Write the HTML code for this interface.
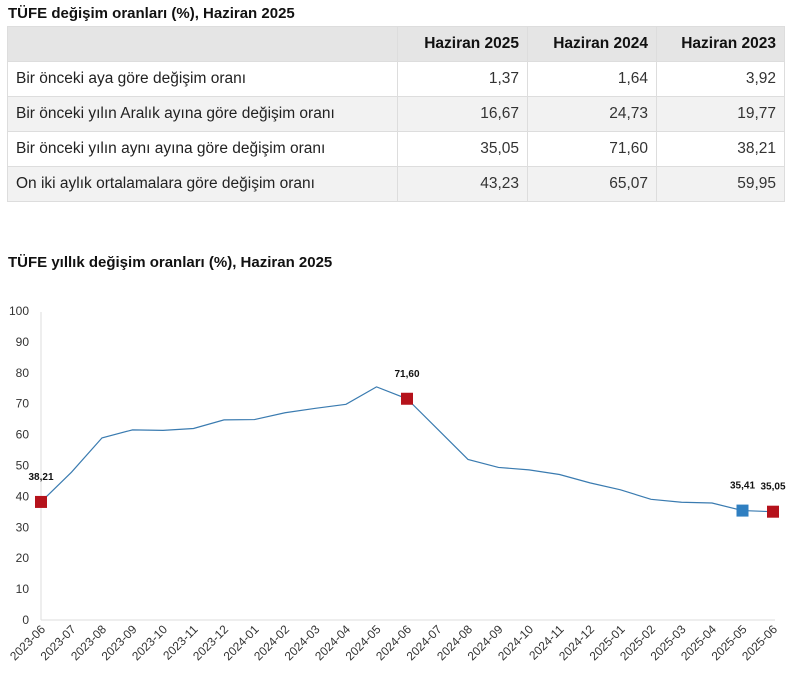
<!DOCTYPE html>
<html><head><meta charset="utf-8"><style>
body{margin:0;background:#fff;width:796px;height:680px;overflow:hidden;font-family:"Liberation Sans","DejaVu Sans",sans-serif;color:#222}
.t{position:absolute;left:8px;font-weight:bold;font-size:15px;color:#111}
table{position:absolute;left:7px;top:26px;border-collapse:collapse;font-size:15.5px}
td,th{border:1px solid #ddd;height:35px;padding:0 8px;box-sizing:border-box}
th{background:#e5e5e5;text-align:right;font-weight:bold;color:#111}
td.n{text-align:right;color:#333}
tr.g td{background:#f2f2f2}
</style></head><body>
<div class="t" style="top:5px">TÜFE değişim oranları (%), Haziran 2025</div>
<table>
<tr><th style="width:390px;height:35px"></th><th style="width:130px">Haziran 2025</th><th style="width:129px">Haziran 2024</th><th style="width:128px">Haziran 2023</th></tr>
<tr><td>Bir önceki aya göre değişim oranı</td><td class="n">1,37</td><td class="n">1,64</td><td class="n">3,92</td></tr>
<tr class="g"><td>Bir önceki yılın Aralık ayına göre değişim oranı</td><td class="n">16,67</td><td class="n">24,73</td><td class="n">19,77</td></tr>
<tr><td>Bir önceki yılın aynı ayına göre değişim oranı</td><td class="n">35,05</td><td class="n">71,60</td><td class="n">38,21</td></tr>
<tr class="g"><td>On iki aylık ortalamalara göre değişim oranı</td><td class="n">43,23</td><td class="n">65,07</td><td class="n">59,95</td></tr>
</table>
<div class="t" style="top:254px">TÜFE yıllık değişim oranları (%), Haziran 2025</div>
<svg id="c" width="796" height="680" style="position:absolute;left:0;top:0" xmlns="http://www.w3.org/2000/svg"></svg>
<script>
var v=[38.21,47.83,58.94,61.53,61.36,61.98,64.77,64.86,67.07,68.50,69.80,75.45,71.60,61.78,51.97,49.38,48.58,47.09,44.38,42.12,39.05,38.10,37.86,35.41,35.05];
var L=["2023-06","2023-07","2023-08","2023-09","2023-10","2023-11","2023-12","2024-01","2024-02","2024-03","2024-04","2024-05","2024-06","2024-07","2024-08","2024-09","2024-10","2024-11","2024-12","2025-01","2025-02","2025-03","2025-04","2025-05","2025-06"];
function X(i){return 41+30.5*i}function Y(a){return 620-3.09*a}
var s='<line x1="41" y1="312" x2="41" y2="620" stroke="#ddd"/><line x1="41" y1="620" x2="775" y2="620" stroke="#ddd"/>';
for(var k=0;k<=10;k++){s+='<text x="29" y="'+(Y(k*10)+4)+'" text-anchor="end" font-size="12" fill="#333">'+(k*10)+'</text>'}
s+='<polyline fill="none" stroke="#3a7bb0" stroke-width="1.2" points="'+v.map(function(a,i){return X(i)+','+Y(a)}).join(' ')+'"/>';
for(var i=0;i<L.length;i++){var x=X(i)+5,y=630;s+='<text transform="translate('+x+','+y+') rotate(-45)" text-anchor="end" font-size="12" fill="#333">'+L[i]+'</text>'}
function m(i,c,t,dy){s+='<rect x="'+(X(i)-6)+'" y="'+(Y(v[i])-6)+'" width="12" height="12" fill="'+c+'"/>';s+='<text x="'+X(i)+'" y="'+(Y(v[i])-dy)+'" text-anchor="middle" font-size="10" font-weight="bold" fill="#111">'+t+'</text>'}
m(0,"#b5121b","38,21",22);m(12,"#b5121b","71,60",22);m(23,"#2f7fc1","35,41",22);m(24,"#b5121b","35,05",22);
document.getElementById('c').innerHTML=s;
</script>
</body></html>
